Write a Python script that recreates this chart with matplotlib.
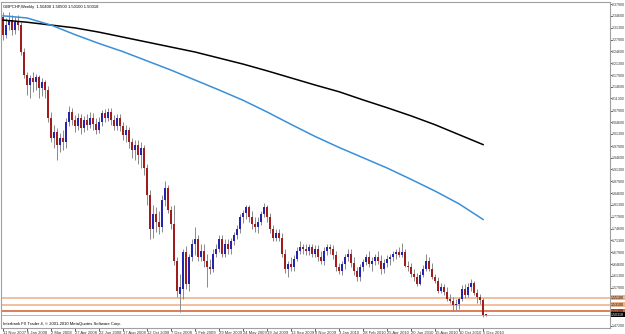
import matplotlib
matplotlib.use("Agg")
import matplotlib.pyplot as plt
import numpy as np

# GBPCHF weekly candles, 11 Nov 2007 .. 12 Dec 2010 (one entry per week)
opens = [
    2.342, 2.292, 2.320, 2.334, 2.306, 2.328, 2.320, 2.244, 2.179, 2.151,
    2.171, 2.160, 2.174, 2.143, 2.160, 2.137, 2.059, 2.002, 2.019, 1.983,
    2.002, 1.991, 2.047, 2.075, 2.053, 2.036, 2.059, 2.031, 2.053, 2.039,
    2.059, 2.042, 2.025, 2.047, 2.073, 2.059, 2.075, 2.053, 2.036, 2.059,
    2.036, 2.011, 2.025, 1.991, 1.969, 1.983, 1.955, 1.974, 1.918, 1.842,
    1.744, 1.786, 1.766, 1.750, 1.828, 1.862, 1.800, 1.758, 1.654, 1.561,
    1.575, 1.679, 1.589, 1.665, 1.702, 1.716, 1.665, 1.682, 1.654, 1.637,
    1.632, 1.674, 1.688, 1.716, 1.674, 1.702, 1.688, 1.710, 1.727, 1.744,
    1.778, 1.789, 1.806, 1.778, 1.758, 1.750, 1.766, 1.786, 1.806, 1.778,
    1.744, 1.721, 1.733, 1.721, 1.674, 1.632, 1.646, 1.637, 1.660, 1.682,
    1.693, 1.688, 1.682, 1.693, 1.674, 1.688, 1.665, 1.654, 1.682, 1.693,
    1.688, 1.671, 1.637, 1.626, 1.646, 1.665, 1.676, 1.648, 1.626, 1.609,
    1.637, 1.651, 1.665, 1.646, 1.654, 1.665, 1.654, 1.632, 1.648, 1.660,
    1.665, 1.674, 1.679, 1.671, 1.679, 1.640, 1.637, 1.617, 1.609, 1.589,
    1.614, 1.632, 1.654, 1.632, 1.609, 1.598, 1.570, 1.581, 1.567, 1.547,
    1.542, 1.530, 1.533, 1.547, 1.575, 1.559, 1.581, 1.592, 1.564, 1.553,
    1.545, 1.504,
]
highs = [
    2.356, 2.340, 2.356, 2.348, 2.342, 2.348, 2.328, 2.255, 2.188, 2.179,
    2.188, 2.182, 2.179, 2.171, 2.165, 2.148, 2.075, 2.039, 2.031, 2.016,
    2.025, 2.059, 2.092, 2.087, 2.067, 2.073, 2.070, 2.064, 2.070, 2.075,
    2.073, 2.059, 2.061, 2.081, 2.084, 2.087, 2.087, 2.067, 2.070, 2.070,
    2.047, 2.039, 2.033, 2.002, 1.997, 1.997, 1.991, 1.983, 1.927, 1.856,
    1.814, 1.806, 1.795, 1.842, 1.879, 1.870, 1.811, 1.814, 1.665, 1.617,
    1.688, 1.696, 1.674, 1.716, 1.750, 1.727, 1.702, 1.702, 1.674, 1.660,
    1.688, 1.702, 1.727, 1.727, 1.716, 1.716, 1.721, 1.738, 1.755, 1.786,
    1.800, 1.814, 1.814, 1.795, 1.778, 1.778, 1.795, 1.817, 1.814, 1.789,
    1.755, 1.744, 1.744, 1.733, 1.688, 1.654, 1.665, 1.671, 1.693, 1.710,
    1.704, 1.702, 1.704, 1.702, 1.699, 1.699, 1.682, 1.693, 1.704, 1.704,
    1.699, 1.682, 1.648, 1.654, 1.674, 1.688, 1.688, 1.665, 1.637, 1.646,
    1.660, 1.674, 1.682, 1.665, 1.674, 1.682, 1.671, 1.660, 1.671, 1.676,
    1.682, 1.688, 1.693, 1.707, 1.688, 1.654, 1.648, 1.632, 1.620, 1.626,
    1.643, 1.674, 1.665, 1.648, 1.617, 1.609, 1.592, 1.589, 1.581, 1.561,
    1.553, 1.547, 1.553, 1.587, 1.589, 1.592, 1.603, 1.598, 1.575, 1.561,
    1.550, 1.505,
]
lows = [
    2.278, 2.283, 2.306, 2.292, 2.295, 2.306, 2.236, 2.171, 2.123, 2.115,
    2.132, 2.137, 2.115, 2.120, 2.115, 2.047, 1.991, 1.974, 1.941, 1.963,
    1.969, 1.974, 2.036, 2.039, 2.019, 2.025, 2.014, 2.019, 2.025, 2.031,
    2.025, 2.014, 2.016, 2.036, 2.047, 2.050, 2.039, 2.025, 2.025, 2.022,
    1.997, 1.991, 1.974, 1.946, 1.941, 1.927, 1.918, 1.898, 1.814, 1.716,
    1.721, 1.738, 1.730, 1.738, 1.811, 1.789, 1.744, 1.643, 1.553, 1.511,
    1.547, 1.575, 1.570, 1.654, 1.671, 1.654, 1.654, 1.637, 1.581, 1.617,
    1.623, 1.665, 1.679, 1.665, 1.665, 1.674, 1.676, 1.699, 1.716, 1.733,
    1.761, 1.772, 1.766, 1.744, 1.738, 1.735, 1.755, 1.778, 1.766, 1.735,
    1.710, 1.710, 1.710, 1.665, 1.620, 1.609, 1.626, 1.626, 1.654, 1.674,
    1.676, 1.671, 1.671, 1.665, 1.665, 1.654, 1.646, 1.643, 1.671, 1.676,
    1.660, 1.626, 1.617, 1.614, 1.632, 1.654, 1.637, 1.614, 1.598, 1.598,
    1.626, 1.643, 1.637, 1.626, 1.643, 1.646, 1.617, 1.620, 1.637, 1.643,
    1.654, 1.660, 1.665, 1.665, 1.637, 1.626, 1.609, 1.598, 1.584, 1.587,
    1.609, 1.626, 1.626, 1.603, 1.592, 1.564, 1.564, 1.559, 1.542, 1.536,
    1.513, 1.516, 1.519, 1.542, 1.550, 1.553, 1.570, 1.559, 1.536, 1.533,
    1.496, 1.501,
]
closes = [
    2.292, 2.320, 2.334, 2.306, 2.328, 2.320, 2.244, 2.179, 2.151, 2.171,
    2.160, 2.174, 2.143, 2.160, 2.137, 2.059, 2.002, 2.019, 1.983, 2.002,
    1.991, 2.047, 2.075, 2.053, 2.036, 2.059, 2.031, 2.053, 2.039, 2.059,
    2.042, 2.025, 2.047, 2.073, 2.059, 2.075, 2.053, 2.036, 2.059, 2.036,
    2.011, 2.025, 1.991, 1.969, 1.983, 1.955, 1.974, 1.918, 1.842, 1.744,
    1.786, 1.766, 1.750, 1.828, 1.862, 1.800, 1.758, 1.654, 1.570, 1.581,
    1.679, 1.589, 1.665, 1.702, 1.716, 1.665, 1.682, 1.654, 1.637, 1.632,
    1.674, 1.688, 1.716, 1.674, 1.702, 1.688, 1.710, 1.727, 1.744, 1.778,
    1.789, 1.806, 1.778, 1.758, 1.750, 1.766, 1.786, 1.806, 1.778, 1.744,
    1.721, 1.733, 1.721, 1.674, 1.632, 1.646, 1.637, 1.660, 1.682, 1.693,
    1.688, 1.682, 1.693, 1.674, 1.688, 1.665, 1.654, 1.682, 1.693, 1.688,
    1.671, 1.637, 1.626, 1.646, 1.665, 1.676, 1.648, 1.626, 1.609, 1.637,
    1.651, 1.665, 1.646, 1.654, 1.665, 1.654, 1.632, 1.648, 1.660, 1.665,
    1.674, 1.679, 1.671, 1.679, 1.640, 1.637, 1.617, 1.609, 1.589, 1.614,
    1.632, 1.654, 1.632, 1.609, 1.598, 1.570, 1.581, 1.567, 1.547, 1.542,
    1.530, 1.533, 1.547, 1.575, 1.559, 1.581, 1.592, 1.564, 1.553, 1.545,
    1.504, 1.50318,
]

# moving averages, read every 8th bar
ma_bars = [0, 8, 16, 24, 32, 40, 48, 56, 64, 72, 80,
           88, 96, 104, 112, 120, 128, 136, 144, 152, 160]
ma_fast = [2.346, 2.340, 2.320, 2.293, 2.268, 2.245, 2.219, 2.193, 2.165, 2.137, 2.108,
           2.075, 2.040, 2.006, 1.975, 1.946, 1.917, 1.885, 1.852, 1.816, 1.772]
ma_slow = [2.334, 2.328, 2.320, 2.312, 2.300, 2.286, 2.272, 2.258, 2.244, 2.227, 2.210,
           2.191, 2.171, 2.151, 2.132, 2.109, 2.087, 2.064, 2.039, 2.011, 1.983]

# horizontal support levels and current bid
levels = [1.551, 1.531, 1.513]
level_colors = ["#efb48e", "#efb48e", "#d8683a"]
bid = 1.50318

date_labels = ["11 Nov 2007", "6 Jan 2008", "2 Mar 2008", "27 Apr 2008", "22 Jun 2008",
               "17 Aug 2008", "12 Oct 2008", "7 Dec 2008", "1 Feb 2009", "29 Mar 2009",
               "24 May 2009", "19 Jul 2009", "13 Sep 2009", "8 Nov 2009", "3 Jan 2010",
               "28 Feb 2010", "25 Apr 2010", "20 Jun 2010", "15 Aug 2010", "10 Oct 2010",
               "5 Dec 2010"]
price_ticks = [2.379, 2.346, 2.313, 2.279, 2.246, 2.213, 2.179, 2.146, 2.113, 2.079,
               2.046, 2.013, 1.979, 1.946, 1.913, 1.879, 1.846, 1.813, 1.779, 1.746,
               1.713, 1.679, 1.646, 1.613, 1.579, 1.472]

BULL, BEAR, WICK, FRAME = "#2424b0", "#a11c1c", "#8a8a8a", "#a0a0a0"

plt.rcParams["font.family"] = ["Liberation Sans", "DejaVu Sans"]

fig = plt.figure(figsize=(6.25, 3.34), dpi=100)
ax = fig.add_axes([1 / 625, 6 / 334, 609 / 625, 326 / 334])

o, h, l, c = (np.array(a) for a in (opens, highs, lows, closes))
x = np.arange(len(o))
ax.vlines(x, l, h, color=WICK, lw=0.7, zorder=2)
body = np.maximum(np.abs(c - o), 0.0012)
cols = [BULL if cc >= oo else BEAR for oo, cc in zip(o, c)]
ax.bar(x, body, bottom=np.minimum(o, c), width=0.62, color=cols, lw=0, zorder=3)

for lv, col in zip(levels, level_colors):
    ax.axhline(lv, color=col, lw=1.2, zorder=1)
ax.axhline(bid, color="#b8b8b8", lw=0.7, zorder=1)

ax.plot(ma_bars, ma_slow, color="black", lw=1.1, zorder=4)
ax.plot(ma_bars, ma_fast, color="#3a8fd8", lw=1.1, zorder=4)

ax.set_xlim(-0.67, 202.3)
ax.set_ylim(1.466, 2.385)

ax.yaxis.tick_right()
ax.set_yticks(price_ticks)
ax.set_yticklabels([f"{v:.5f}" for v in price_ticks])
ax.tick_params(axis="y", length=1.2, width=0.6, color="#444", labelsize=2.6, pad=0.3,
               labelcolor="#333")
ax.set_xticks(ma_bars)
ax.set_xticklabels(date_labels)
ax.tick_params(axis="x", length=2, width=0.6, color="#444", labelsize=3, pad=0.5,
               labelcolor="#333")
for t in ax.get_xticklabels():
    t.set_ha("left")
for s in ax.spines.values():
    s.set_color(FRAME); s.set_linewidth(0.8)

for lv, col in zip(levels, level_colors):
    ax.annotate(f"{lv:.5f}", xy=(1.0, lv), xycoords=("axes fraction", "data"),
                xytext=(0.8, 0), textcoords="offset points", fontsize=2.6, va="center",
                ha="left", color="black", annotation_clip=False,
                bbox=dict(boxstyle="square,pad=0.15", fc=col, ec="none"))
ax.annotate(f"{bid:.5f}", xy=(1.0, bid), xycoords=("axes fraction", "data"),
            xytext=(0.8, 0), textcoords="offset points", fontsize=2.6, va="center",
            ha="left", color="white", annotation_clip=False,
            bbox=dict(boxstyle="square,pad=0.15", fc="black", ec="none"))

ax.text(0.003, 0.992, f"GBPCHF,Weekly  {opens[-1]:.5f} {highs[-1]:.5f} {lows[-1]:.5f} {closes[-1]:.5f}",
        transform=ax.transAxes, fontsize=3, va="top", ha="left", color="black")
ax.text(0.003, 0.006, "Interbank FX Trader 4, \u00a9 2001-2010 MetaQuotes Software Corp.",
        transform=ax.transAxes, fontsize=3, va="bottom", ha="left", color="black")

fig.savefig("out.png", dpi=100, facecolor="white")
